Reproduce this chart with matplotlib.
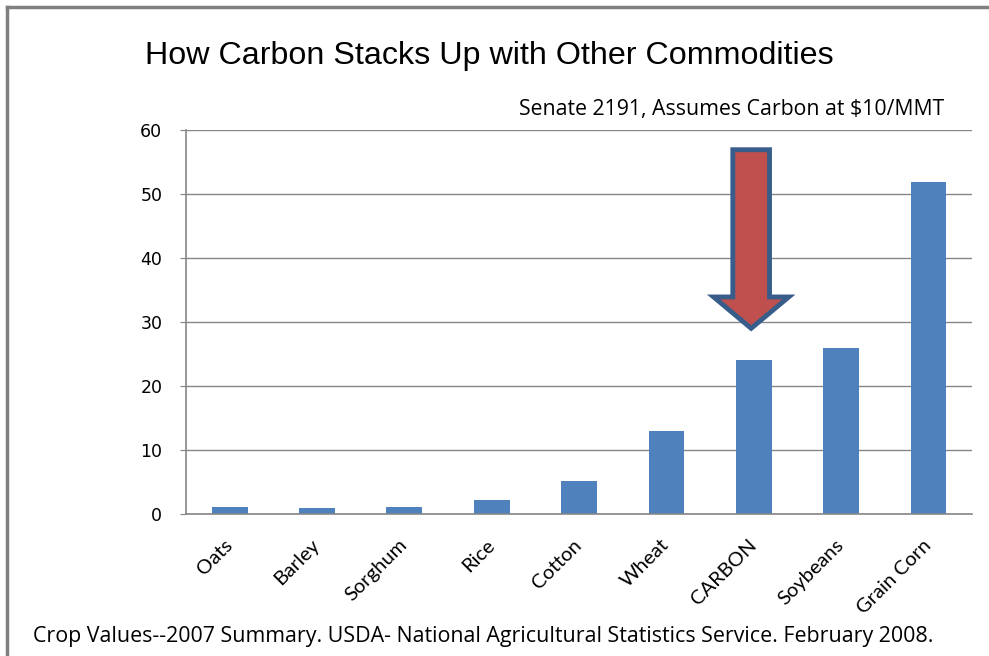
import matplotlib.pyplot as plt
from matplotlib.patches import Polygon
import matplotlib.transforms as mtransforms
import numpy as np

# crop values, 2007 summary
crops = ['Oats', 'Barley', 'Sorghum', 'Rice', 'Cotton', 'Wheat', 'CARBON', 'Soybeans', 'Grain Corn']
values = [1.1, 0.9, 1.1, 2.2, 5.1, 13.0, 24.0, 25.9, 51.9]
yticks = [0, 10, 20, 30, 40, 50, 60]

title = 'How Carbon Stacks Up with Other Commodities'
subtitle = 'Senate 2191, Assumes Carbon at $10/MMT'
footer = 'Crop Values--2007 Summary. USDA- National Agricultural Statistics Service. February 2008.'

BLUE = '#4F81BD'
GRID = '#868686'


def plot():
    fig = plt.figure(figsize=(9.89, 6.56), dpi=100)
    ax = fig.add_axes([0.188, 0.2165, 0.795, 0.5855])

    x = np.arange(len(crops))
    ax.bar(x, values, width=0.41, color=BLUE, zorder=2)

    ax.set_xlim(-0.5, len(crops) - 0.5)
    ax.set_ylim(0, 60)
    ax.set_yticks(yticks)
    ax.yaxis.grid(True, color=GRID, linewidth=1)
    ax.set_axisbelow(True)

    for s in ['top', 'right']:
        ax.spines[s].set_visible(False)
    for s in ['left', 'bottom']:
        ax.spines[s].set_color(GRID)
        ax.spines[s].set_linewidth(1.2)

    ax.tick_params(axis='y', length=4, color=GRID, labelsize=12.5, pad=13)
    ax.tick_params(axis='x', length=0, pad=16)
    ax.set_xticks(x)
    ax.set_xticklabels(crops, rotation=45, ha='right', va='top',
                       rotation_mode='anchor', fontsize=14.5, family='Lato')
    shift = mtransforms.ScaledTranslation(-6 / 100, 0, fig.dpi_scale_trans)
    for lab in ax.get_xticklabels():
        lab.set_transform(lab.get_transform() + shift)

    # red arrow pointing down at the CARBON bar
    i = crops.index('CARBON')
    cx = x[i] - 0.03
    tip = values[i] + 5.0
    top = 56.9
    base = 33.9
    sw = 0.21
    hw = 0.43
    arrow = Polygon([(cx - sw, top), (cx + sw, top), (cx + sw, base), (cx + hw, base),
                     (cx, tip), (cx - hw, base), (cx - sw, base)],
                    closed=True, facecolor='#C0504D', edgecolor='#385D8A',
                    linewidth=3.5, joinstyle='miter', zorder=5, clip_on=False)
    ax.add_patch(arrow)

    fig.text(0.495, 0.914, title, ha='center', va='center', fontsize=23.2,
             family='Liberation Sans')
    fig.text(0.955, 0.833, subtitle, ha='right', va='center', fontsize=15.3, family='Open Sans')
    fig.text(0.033, 0.029, footer, ha='left', va='center', fontsize=15.4, family='Open Sans')

    # gray frame around the slide
    fig.add_artist(plt.Line2D([0.0075, 1.0], [0.99, 0.99], color='#808080', linewidth=2.5,
                              transform=fig.transFigure))
    fig.add_artist(plt.Line2D([0.0075, 0.0075], [0.0, 0.99], color='#808080', linewidth=2.5,
                              transform=fig.transFigure))

    fig.savefig('out.png', dpi=100)


if __name__ == '__main__':
    plot()
